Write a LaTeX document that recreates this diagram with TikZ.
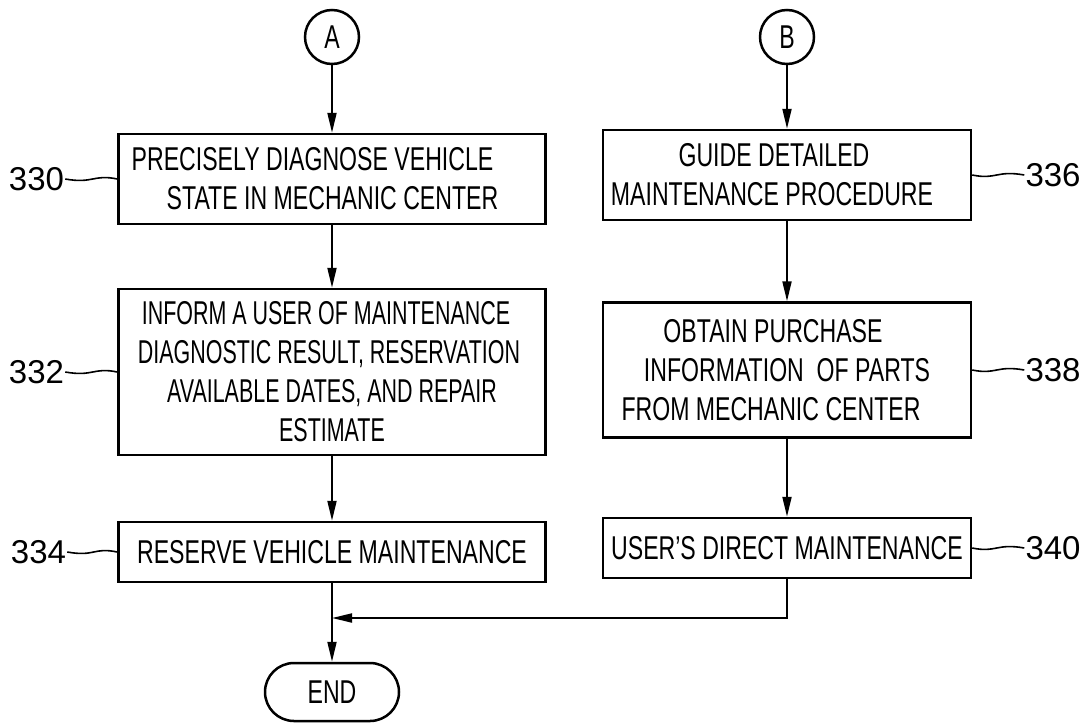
\documentclass[tikz,border=0pt]{standalone}
\usepackage{fontspec}
\setmainfont{Liberation Sans}[FakeStretch=0.70]
\newfontfamily\narrowfont{Liberation Sans}[FakeStretch=0.65]
\newfontfamily\numfont{Liberation Sans}
\usetikzlibrary{positioning,arrows.meta,shapes.misc}

\begin{document}
\begin{tikzpicture}[x=1pt, y=-1pt,
    flow/.style = {-{Triangle[length=20pt, width=9pt]}, line width=2pt},
    lead/.style = {line width=1.6pt}]

    \useasboundingbox (0,0) rectangle (1089,723);

    {
        \tikzset{every node/.style = {draw, line width=2.5pt, inner sep=0pt, align=center,
                                      font=\fontsize{33}{39}\selectfont}}
        \tikzset{num/.style = {draw=none, font=\numfont\fontsize{33}{33}\selectfont}}

        \node[circle, minimum size=54pt] (A) at (332, 37) {A};
        \node[circle, minimum size=54pt] (B) at (787, 37) {B};

        \node[minimum width=427pt, minimum height=90pt, align=left] (b330) at (332, 179)
            {PRECISELY DIAGNOSE VEHICLE\\\hspace*{35pt}STATE IN MECHANIC CENTER\hspace*{34pt}\mbox{}};
        \node[minimum width=427pt, minimum height=166pt, font=\narrowfont\fontsize{33}{39}\selectfont] (b332) at (332, 372)
            {INFORM A USER OF MAINTENANCE\hspace*{12pt}\mbox{}\\DIAGNOSTIC RESULT, RESERVATION\hspace*{6pt}\mbox{}\\AVAILABLE DATES, AND REPAIR\\ESTIMATE};
        \node[minimum width=427pt, minimum height=60pt] (b334) at (332, 552)
            {RESERVE VEHICLE MAINTENANCE};

        \node[minimum width=368pt, minimum height=90pt] (b336) at (787, 175)
            {GUIDE DETAILED\hspace*{26pt}\mbox{}\\MAINTENANCE PROCEDURE\hspace*{30pt}\mbox{}};
        \node[minimum width=368pt, minimum height=135pt] (b338) at (787, 370)
            {OBTAIN PURCHASE\hspace*{28pt}\mbox{}\\INFORMATION\ \ OF PARTS\\FROM MECHANIC CENTER\hspace*{32pt}\mbox{}};
        \node[minimum width=368pt, minimum height=60pt] (b340) at (787, 548)
            {USER'S DIRECT MAINTENANCE};

        \node[rounded rectangle, minimum width=134pt, minimum height=58pt] (end) at (332, 692) {END};

        \node[num, left=52pt of b330] (l330) {330};
        \node[num, left=52pt of b332] (l332) {332};
        \node[num, left=50pt of b334] (l334) {334};
        \node[num, right=52pt of b336] (l336) {336};
        \node[num, right=52pt of b338] (l338) {338};
        \node[num, right=52pt of b340] (l340) {340};
    }

    \coordinate (mrg) at (332, 618);

    \draw (A) edge[flow] (b330);
    \draw (b330) edge[flow] (b332);
    \draw (b332) edge[flow] (b334);
    \draw (b334) edge[flow] (end);
    \draw (B) edge[flow] (b336);
    \draw (b336) edge[flow] (b338);
    \draw (b338) edge[flow] (b340);
    \draw[flow] (b340) |- (mrg);

    % reference numerals
    \draw[lead] (l330.east) .. controls +(28,5) and +(-24,-5) .. (b330.west);
    \draw[lead] (l332.east) .. controls +(28,5) and +(-24,-5) .. (b332.west);
    \draw[lead] (l334.east) .. controls +(28,5) and +(-24,-5) .. (b334.west);
    \draw[lead] (b336.east) .. controls +(24,5) and +(-28,-5) .. (l336.west);
    \draw[lead] (b338.east) .. controls +(24,5) and +(-28,-5) .. (l338.west);
    \draw[lead] (b340.east) .. controls +(24,5) and +(-28,-5) .. (l340.west);

\end{tikzpicture}
\end{document}
